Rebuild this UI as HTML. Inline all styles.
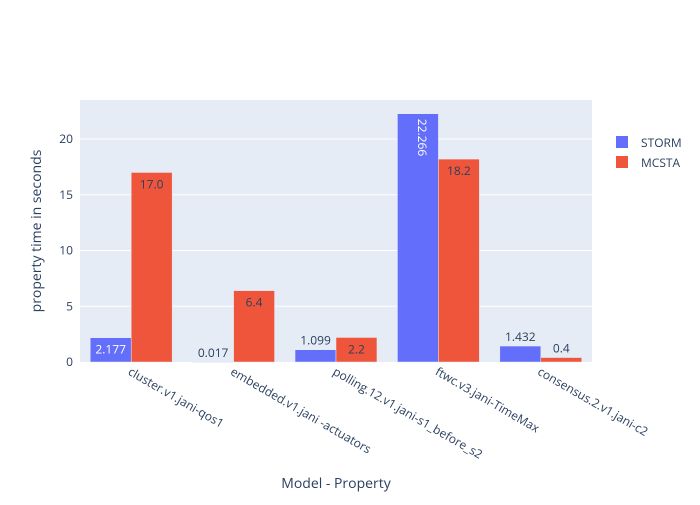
<!DOCTYPE html>
<html><head><meta charset="utf-8"><style>
body{margin:0;background:#fff;font-family:"Liberation Sans",sans-serif;}
svg text{font-family:"Open Sans","Liberation Sans",sans-serif;}
</style></head><body>
<svg id="chart" width="700" height="500">
<rect x="80" y="100" width="512" height="262" fill="#e5ecf6"/>
<g id="grid"></g><g id="bars"></g><g id="labels"></g><g id="axes"></g>
<text x="336" y="488" text-anchor="middle" font-size="14" fill="#2a3f5f">Model - Property</text>
<text transform="translate(41,231) rotate(-90)" text-anchor="middle" font-size="14" fill="#2a3f5f">property time in seconds</text>
<g>
<rect x="616" y="136" width="12" height="12" fill="#636efa"/>
<text x="641" y="147" font-size="12" fill="#2a3f5f">STORM</text>
<rect x="616" y="156" width="12" height="12" fill="#ef553b"/>
<text x="641" y="167" font-size="12" fill="#2a3f5f">MCSTA</text>
</g>
</svg>
<script>
const categories=["cluster.v1.jani-qos1","embedded.v1.jani -actuators","polling.12.v1.jani-s1_before_s2","ftwc.v3.jani-TimeMax","consensus.2.v1.jani-c2"];
const stormValues=[2.177,0.017,1.099,22.266,1.432];
const mcstaValues=[17.0,6.4,2.2,18.2,0.4];
const stormLabels=["2.177","0.017","1.099","22.266","1.432"];
const mcstaLabels=["17.0","6.4","2.2","18.2","0.4"];
const yTicks=[0,5,10,15,20];
const NS="http://www.w3.org/2000/svg";
const X0=80,W=512,Y0=362,YMAX=23.5,H=262;
const y=v=>Y0-v/YMAX*H;
const band=W/categories.length;
const xc=i=>X0+band*(i+0.5);
const bw=band*0.4;
function mk(tag,attrs,parent,txt){const e=document.createElementNS(NS,tag);for(const k in attrs)e.setAttribute(k,attrs[k]);if(txt!==undefined)e.textContent=txt;document.getElementById(parent).appendChild(e);return e;}
yTicks.forEach(t=>{
 if(t>0){const l=mk('line',{x1:X0,x2:X0+W,y1:y(t),y2:y(t),stroke:'#fff','stroke-width':1},'grid');
 
 }
 const tx=mk('text',{x:X0-7,y:y(t)+4,'text-anchor':'end','font-size':12,fill:'#2a3f5f'},'axes',String(t));
 
 
});
categories.forEach((c,i)=>{
 const tx=mk('text',{transform:`translate(${xc(i)-4},${Y0+12}) rotate(30)`,'font-size':12,fill:'#2a3f5f'},'axes',c);
 
 
 [[stormValues,stormLabels,'#636efa','#fff',-1,'storm'],[mcstaValues,mcstaLabels,'#ef553b','#2a3f5f',0,'mcsta']].forEach(([vals,labs,col,inCol,off,nm])=>{
  const v=vals[i],bx=xc(i)+off*bw,top=y(v),h=Y0-top;
  const r=mk('rect',{x:bx,y:top,width:bw,height:Math.max(h,0.5),fill:col,stroke:'#e5ecf6','stroke-width':0.5},'bars');
  
  
  const cx=bx+bw/2;let t;
  if(h>40&&labs[i].length>4){t=mk('text',{transform:`translate(${cx},${top+5}) rotate(90)`,'font-size':12,fill:inCol},'labels',labs[i]);}
  else if(h>=20){t=mk('text',{x:cx,y:top+16,'text-anchor':'middle','font-size':12,fill:inCol},'labels',labs[i]);}
  else{t=mk('text',{x:cx,y:top-5,'text-anchor':'middle','font-size':12,fill:'#2a3f5f'},'labels',labs[i]);}
  
  
 });
});
</script>
</body></html>
